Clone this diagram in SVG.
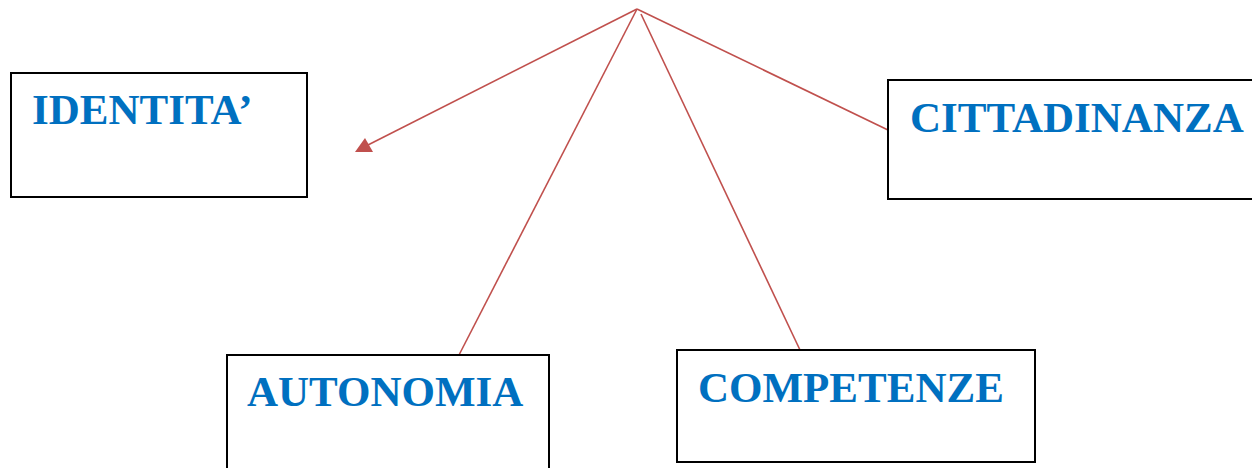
<svg xmlns="http://www.w3.org/2000/svg" width="1252" height="468" viewBox="0 0 1252 468">
<style>
.box{fill:#fff;stroke:#000;stroke-width:2}
.lbl{font-family:"Liberation Serif","Times New Roman",serif;font-weight:bold;font-size:43px;fill:#0070C0}
.con{stroke:#C0504D;stroke-width:1.6;fill:none}
</style>
<rect width="1252" height="468" fill="#fff"/>
<g id="connectors">
<line class="con" x1="637" y1="9" x2="364" y2="147"/>
<polygon points="355,152 373,152 365,138" fill="#C0504D"/>
<line class="con" x1="637" y1="9" x2="459" y2="355"/>
<line class="con" x1="641" y1="14" x2="800" y2="350"/>
<line class="con" x1="637" y1="9" x2="888" y2="130"/>
</g>
<g id="identita">
<rect class="box" x="11" y="73" width="296" height="124"/>
<text class="lbl" x="32" y="124">IDENTITA’</text>
</g>
<g id="cittadinanza">
<rect class="box" x="888" y="80" width="370" height="119"/>
<text class="lbl" x="910" y="132">CITTADINANZA</text>
</g>
<g id="autonomia">
<rect class="box" x="227" y="355" width="322" height="120"/>
<text class="lbl" x="247" y="406">AUTONOMIA</text>
</g>
<g id="competenze">
<rect class="box" x="677" y="350" width="358" height="112"/>
<text class="lbl" x="698" y="402">COMPETENZE</text>
</g>
</svg>
